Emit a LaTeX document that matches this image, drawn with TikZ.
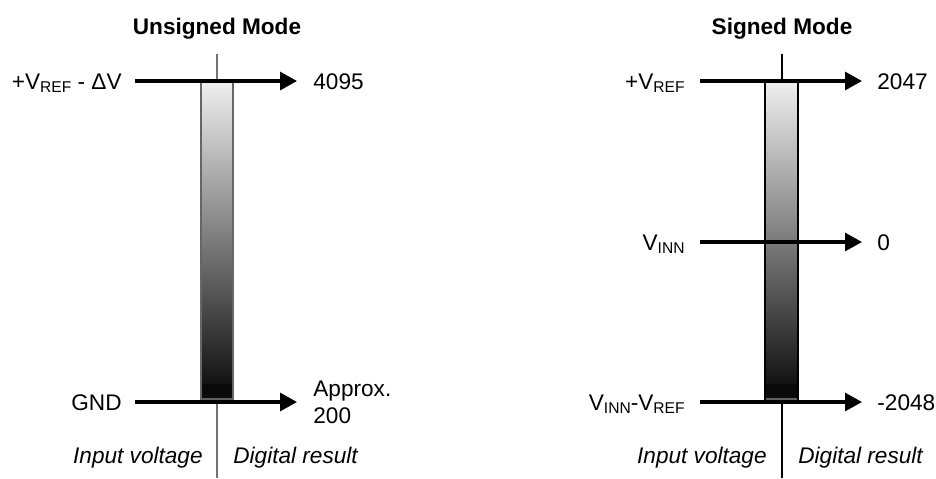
\documentclass[tikz,border=0pt]{standalone}
\usepackage{fontspec}
\setmainfont{Liberation Sans}
\usetikzlibrary{arrows.meta}
\newcommand\sbs[1]{\raisebox{-1.7pt}{\fontsize{7.8}{9}\selectfont #1}}
\tikzset{
  lbl/.style={inner sep=0pt, font=\fontsize{11.3}{13.5}\selectfont},
  ttl/.style={inner sep=0pt, font=\fontsize{11.3}{13.5}\selectfont\bfseries},
  itl/.style={inner sep=0pt, font=\fontsize{11.3}{13.5}\selectfont\itshape},
  arr/.style={line width=1.6pt, -{Triangle[length=8.5pt,width=9pt]}},
}
\begin{document}
\begin{tikzpicture}[x=0.5pt,y=-0.5pt]
\useasboundingbox (0,0) rectangle (936,478);
% ---------- Unsigned ----------
\shade[top color=black!6, bottom color=black!93] (201,81) rectangle (233,385);
\fill[black!96] (201,384) rectangle (233,398);
\fill[black!62] (201,398) rectangle (233,402);
\draw[line width=0.6pt, black!60] (201,81) rectangle (233,402);
\coordinate (ltop) at (217,54);
\coordinate (lbar1) at (217,81);
\coordinate (lbar2) at (217,402);
\coordinate (lbot) at (217,478);
\draw[line width=0.6pt, black!55] (ltop) -- (lbar1);
\draw[line width=0.6pt, black!55] (lbar2) -- (lbot);
\coordinate (ua1) at (135,81);
\coordinate (ub1) at (297,81);
\coordinate (ua2) at (135,402);
\coordinate (ub2) at (297,402);
\draw[arr] (ua1) -- (ub1);
\draw[arr] (ua2) -- (ub2);
\node[ttl, anchor=base] (ut) at (217,34) {Unsigned Mode};
\node[lbl, anchor=base east] (ul1) at (122,89) {+V\sbs{REF} - ΔV};
\node[lbl, anchor=base west] (uv1) at (313,89) {4095};
\node[lbl, anchor=base east] (ul2) at (122,410) {GND};
\node[lbl, anchor=base west] (uv2a) at (313,396) {Approx.};
\node[lbl, anchor=base west] (uv2b) at (313,423) {200};
\node[itl, anchor=base east] (uin) at (203,463) {Input voltage};
\node[itl, anchor=base west] (udr) at (233,463) {Digital result};
% ---------- Signed ----------
\shade[top color=black!6, bottom color=black!93] (765,81) rectangle (798,385);
\fill[black!96] (765,384) rectangle (798,398);
\fill[black!62] (765,398) rectangle (798,402);
\draw[line width=0.6pt, black] (765,81) rectangle (798,402);
\coordinate (rtop) at (782,54);
\coordinate (rbar1) at (782,81);
\coordinate (rbar2) at (782,402);
\coordinate (rbot) at (782,478);
\draw[line width=0.6pt, black] (rtop) -- (rbar1);
\draw[line width=0.6pt, black] (rbar2) -- (rbot);
\coordinate (sa1) at (700,81);
\coordinate (sb1) at (862,81);
\coordinate (sa2) at (700,242);
\coordinate (sb2) at (862,242);
\coordinate (sa3) at (700,402);
\coordinate (sb3) at (862,402);
\draw[arr] (sa1) -- (sb1);
\draw[arr] (sa2) -- (sb2);
\draw[arr] (sa3) -- (sb3);
\node[ttl, anchor=base] (st) at (782,34) {Signed Mode};
\node[lbl, anchor=base east] (sl1) at (685,89) {+V\sbs{REF}};
\node[lbl, anchor=base west] (sv1) at (877,89) {2047};
\node[lbl, anchor=base east] (sl2) at (685,250) {V\sbs{INN}};
\node[lbl, anchor=base west] (sv2) at (877,250) {0};
\node[lbl, anchor=base east] (sl3) at (685,410) {V\sbs{INN}-V\sbs{REF}};
\node[lbl, anchor=base west] (sv3) at (877,410) {-2048};
\node[itl, anchor=base east] (sin) at (767,463) {Input voltage};
\node[itl, anchor=base west] (sdr) at (798,463) {Digital result};
\end{tikzpicture}
\end{document}
